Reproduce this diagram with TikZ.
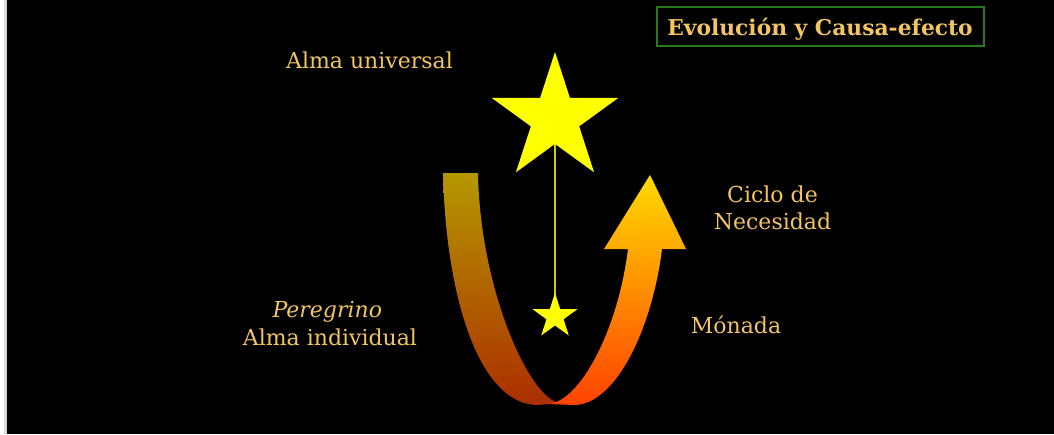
\documentclass[tikz,border=0pt]{standalone}
\usepackage{fontspec}
\setmainfont{DejaVu Serif}
\usetikzlibrary{shapes.geometric,backgrounds}
\definecolor{txt}{RGB}{242,196,98}
\definecolor{boxgreen}{RGB}{40,120,30}
\definecolor{lbtop}{RGB}{180,152,0}
\definecolor{lbbot}{RGB}{172,46,0}
\definecolor{rbtop}{RGB}{255,218,0}
\definecolor{rbbot}{RGB}{255,66,0}
\definecolor{starfill}{RGB}{255,255,0}
\definecolor{linecol}{RGB}{205,205,0}
\tikzset{
  lbl/.style={text=txt, anchor=base, inner sep=0pt, font=\fontsize{22}{27}\selectfont},
  starnode/.style={star, star points=5, star point ratio=2.618, fill=starfill, draw=none, inner sep=0pt},
  titlebox/.style={draw=boxgreen, line width=1.3pt, minimum width=327pt, minimum height=39pt, inner sep=0pt}
}
\begin{document}
\begin{tikzpicture}[x=1pt,y=-1pt]
\useasboundingbox (0,0) rectangle (1054,434);
\begin{pgfonlayer}{background}
\fill[white] (0,0) rectangle (1054,434);
\fill[black!15] (4,0) rectangle (7,434);
\fill[black] (6.5,0) rectangle (1054,434);
\end{pgfonlayer}

% title
\node[titlebox] (title) at (820.5,26.5) {};
\node[lbl, font=\fontsize{21.8}{24}\selectfont\bfseries] (titletext) at (820,35.7) {Evolución y Causa-efecto};

% bands
\path[top color=lbtop, bottom color=lbbot]
  (443,173) .. controls (446,300) and (480,405) .. (538,405)
  -- (560,403) .. controls (530,400) and (480,290) .. (478,173) -- cycle;
\path[top color=rbtop, bottom color=rbbot]
  (628,249) .. controls (618,330) and (580,402) .. (548,404)
  -- (574,405) .. controls (615,405) and (652,330) .. (662,249)
  -- (686,249) -- (650,175) -- (604,249) -- cycle;

% stars
\node[starnode, minimum size=133pt] (big) at (555,118.5) {};
\node[starnode, minimum size=47pt] (small) at (555,316.5) {};
\begin{pgfonlayer}{background}
\draw[linecol, line width=1.1pt] (big.center) -- (small.center);
\end{pgfonlayer}

% labels
\node[lbl] (alma) at (369.5,68.3) {Alma universal};
\node[lbl] (ciclo) at (772.5,202.3) {Ciclo de};
\node[lbl] (neces) at (772.5,229.3) {Necesidad};
\node[lbl] (monada) at (736,333.3) {Mónada};
\node[lbl, font=\fontsize{22}{27}\selectfont\itshape] (peregrino) at (327.3,317.3) {Peregrino};
\node[lbl] (almaind) at (330,345.7) {Alma individual};
\end{tikzpicture}
\end{document}
